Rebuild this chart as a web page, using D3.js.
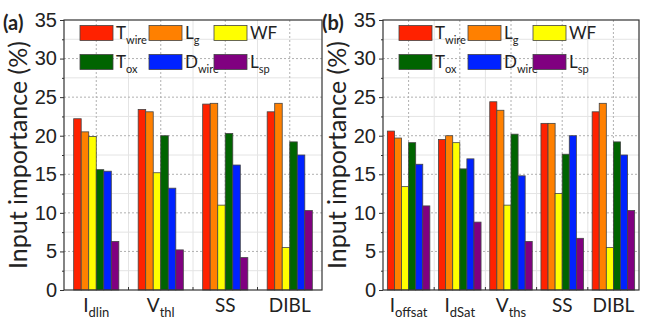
<!DOCTYPE html>
<html>
<head>
<meta charset="utf-8">
<script src="https://cdn.jsdelivr.net/npm/d3@7"></script>
<style>
  body { margin: 0; background: #fff; }
  svg { font-family: Lato, "Open Sans", sans-serif; }
</style>
</head>
<body>
<svg id="chart" width="652" height="321"></svg>
<script>
// series, in legend order
var seriesNames = [["T", "wire"], ["L", "g"], ["WF", ""], ["T", "ox"], ["D", "wire"], ["L", "sp"]];
var seriesColors = ["#ff2200", "#ff8000", "#ffff00", "#006400", "#0022ff", "#800080"];

// panel (a)
var catsA = [["I", "dlin"], ["V", "thl"], ["SS", ""], ["DIBL", ""]];
var valsA = [
  [22.2, 20.5, 19.9, 15.6, 15.4, 6.3],
  [23.4, 23.1, 15.2, 20.0, 13.2, 5.2],
  [24.1, 24.2, 11.0, 20.3, 16.2, 4.2],
  [23.1, 24.2, 5.5, 19.2, 17.5, 10.3]
];

// panel (b)
var catsB = [["I", "offsat"], ["I", "dSat"], ["V", "ths"], ["SS", ""], ["DIBL", ""]];
var valsB = [
  [20.6, 19.7, 13.4, 19.1, 16.3, 10.9],
  [19.5, 20.0, 19.1, 15.7, 17.0, 8.8],
  [24.4, 23.3, 11.0, 20.2, 14.8, 6.3],
  [21.6, 21.6, 12.5, 17.6, 20.0, 6.7],
  [23.1, 24.2, 5.5, 19.2, 17.5, 10.3]
];

var yTicks = [0, 5, 10, 15, 20, 25, 30, 35];

var svg = d3.select("#chart");

function subText(sel, main, sub, subSize) {
  sel.append("tspan").text(main);
  if (sub) {
    sel.append("tspan").attr("dy", 5).attr("font-size", subSize).text(sub);
  }
}

function drawPanel(opt) {
  var top = 20, bottom = 290;
  var g = svg.append("g");

  var y = d3.scaleLinear().domain([0, 35]).range([bottom, top]);
  var x = d3.scaleBand().domain(d3.range(opt.cats.length))
    .range([opt.left, opt.right]).paddingInner(opt.pad).paddingOuter(opt.pad / 2);
  var xs = d3.scaleBand().domain(d3.range(seriesNames.length)).range([0, x.bandwidth()]);
  var step = x.step();

  // minor grid
  var minor = d3.range(2.5, 35, 5);
  g.selectAll(".hmin").data(minor).enter().append("line")
    .attr("x1", opt.left).attr("x2", opt.right)
    .attr("y1", function(d) { return y(d); }).attr("y2", function(d) { return y(d); })
    .attr("stroke", "#e4e4e4").attr("stroke-width", 1);
  g.selectAll(".vmin").data(d3.range(1, opt.cats.length)).enter().append("line")
    .attr("x1", function(d) { return opt.left + d * step; })
    .attr("x2", function(d) { return opt.left + d * step; })
    .attr("y1", top).attr("y2", bottom)
    .attr("stroke", "#e4e4e4").attr("stroke-width", 1);
  // major grid
  g.selectAll(".hmaj").data(yTicks.slice(1, -1)).enter().append("line")
    .attr("x1", opt.left).attr("x2", opt.right)
    .attr("y1", function(d) { return y(d); }).attr("y2", function(d) { return y(d); })
    .attr("stroke", "#b0b0b0").attr("stroke-dasharray", "2,2");
  g.selectAll(".vmaj").data(d3.range(opt.cats.length)).enter().append("line")
    .attr("x1", function(d) { return x(d) + x.bandwidth() / 2; })
    .attr("x2", function(d) { return x(d) + x.bandwidth() / 2; })
    .attr("y1", top).attr("y2", bottom)
    .attr("stroke", "#b0b0b0").attr("stroke-dasharray", "2,2");

  // bars
  var groups = g.selectAll(".grp").data(opt.vals).enter().append("g")
    .attr("transform", function(d, i) { return "translate(" + x(i) + ",0)"; });
  groups.selectAll("rect").data(function(d) { return d; }).enter().append("rect")
    .attr("x", function(d, i) { return xs(i); })
    .attr("width", xs.bandwidth())
    .attr("y", function(d) { return y(d); })
    .attr("height", function(d) { return y(0) - y(d); })
    .attr("fill", function(d, i) { return seriesColors[i]; })
    .attr("stroke", "#444").attr("stroke-width", 0.8);

  // frame
  g.append("rect").attr("x", opt.left).attr("y", top)
    .attr("width", opt.right - opt.left).attr("height", bottom - top)
    .attr("fill", "none").attr("stroke", "#333").attr("stroke-width", 1.2);

  // y axis
  var yAxis = d3.axisLeft(y).tickValues(yTicks).tickSize(4).tickPadding(3);
  var ya = g.append("g").attr("transform", "translate(" + opt.left + ",0)").call(yAxis);
  ya.select(".domain").remove();
  ya.selectAll("text").attr("font-size", 20).attr("fill", "#222");
  ya.selectAll("line").attr("stroke", "#333");
  var yMinor = d3.axisLeft(y).tickValues(minor).tickSize(2).tickFormat("");
  var ym = g.append("g").attr("transform", "translate(" + opt.left + ",0)").call(yMinor);
  ym.select(".domain").remove();
  ym.selectAll("line").attr("stroke", "#333");

  // x ticks at group boundaries
  g.selectAll(".xt").data(d3.range(1, opt.cats.length)).enter().append("line")
    .attr("x1", function(d) { return opt.left + d * step; })
    .attr("x2", function(d) { return opt.left + d * step; })
    .attr("y1", bottom).attr("y2", bottom - 3)
    .attr("stroke", "#333");

  // x labels
  g.selectAll(".xl").data(opt.cats).enter().append("text")
    .attr("x", function(d, i) { return x(i) + x.bandwidth() / 2; })
    .attr("y", 312).attr("text-anchor", "middle")
    .attr("font-size", 19).attr("fill", "#222")
    .each(function(d) { subText(d3.select(this), d[0], d[1], 13); });

  // y title
  g.append("text")
    .attr("transform", "translate(" + (opt.left - 37) + "," + ((top + bottom) / 2) + ") rotate(-90)")
    .attr("text-anchor", "middle").attr("font-size", 25).attr("fill", "#222")
    .text("Input importance (%)");

  // panel letter
  g.append("text").attr("x", opt.left - 61).attr("y", 30)
    .attr("font-size", 20).attr("font-weight", "bold").attr("fill", "#222")
    .text(opt.letter);

  // legend
  var colX = [16, 85, 150];
  var rowY = [33, 62];
  var lg = g.selectAll(".lg").data(seriesNames).enter().append("g")
    .attr("transform", function(d, i) {
      return "translate(" + (opt.left + colX[i % 3]) + "," + rowY[Math.floor(i / 3)] + ")";
    });
  lg.append("rect").attr("x", 0).attr("y", -7.5).attr("width", 33).attr("height", 15)
    .attr("fill", function(d, i) { return seriesColors[i]; })
    .attr("stroke", "#444").attr("stroke-width", 0.8);
  lg.append("text").attr("x", 36).attr("y", 6)
    .attr("font-size", 17).attr("fill", "#222")
    .each(function(d) { subText(d3.select(this), d[0], d[1], 11); });
}

drawPanel({ left: 64, right: 322, cats: catsA, vals: valsA, pad: 0.3, letter: "(a)" });
drawPanel({ left: 383, right: 639, cats: catsB, vals: valsB, pad: 0.17, letter: "(b)" });
</script>
</body>
</html>
